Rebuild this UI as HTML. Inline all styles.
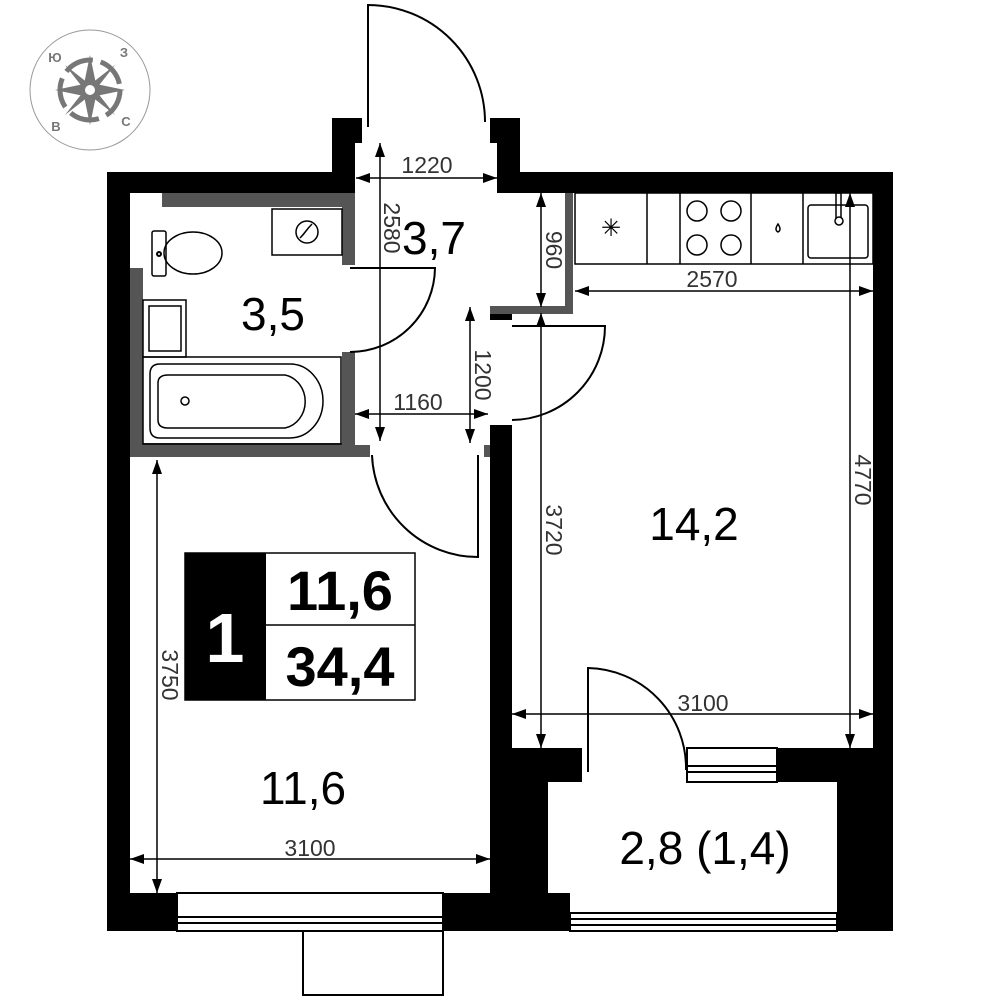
<!DOCTYPE html>
<html><head><meta charset="utf-8"><style>
html,body{margin:0;padding:0;background:#fff;width:1000px;height:1000px;overflow:hidden}
text{font-family:"Liberation Sans",sans-serif}
</style></head><body>
<svg width="1000" height="1000" viewBox="0 0 1000 1000" xmlns="http://www.w3.org/2000/svg">
<defs>
<marker id="a" viewBox="0 0 14 10" refX="14" refY="5" markerWidth="14" markerHeight="10" markerUnits="userSpaceOnUse" orient="auto-start-reverse"><path d="M0,0L14,5L0,10z" fill="#000"/></marker>
</defs>
<g>
<circle cx="90" cy="90" r="60" fill="none" stroke="#999" stroke-width="1"/>
<circle cx="90" cy="90" r="30" fill="none" stroke="#777" stroke-width="5" stroke-dasharray="30 8"/>
<path d="M90,55 L96,84 L125,90 L96,96 L90,125 L84,96 L55,90 L84,84Z" fill="#777"/>
<path d="M65,65 L93,87 L115,115 L87,93Z" fill="#777"/>
<path d="M115,65 L93,93 L65,115 L87,87Z" fill="#777"/>
<circle cx="90" cy="90" r="7" fill="#fff" stroke="#777" stroke-width="4"/>
<text x="55" y="62" font-size="13" font-weight="bold" fill="#777" text-anchor="middle">Ю</text>
<text x="124" y="57" font-size="13" font-weight="bold" fill="#777" text-anchor="middle">З</text>
<text x="56" y="131" font-size="13" font-weight="bold" fill="#777" text-anchor="middle">В</text>
<text x="126" y="126" font-size="13" font-weight="bold" fill="#777" text-anchor="middle">С</text>
</g>
<g fill="#000">
<rect x="107" y="172" width="23" height="759"/>
<rect x="107" y="172" width="248" height="21"/>
<rect x="332" y="118" width="23" height="75"/>
<rect x="355" y="118" width="7" height="25"/>
<rect x="497" y="118" width="23" height="75"/>
<rect x="490" y="118" width="7" height="25"/>
<rect x="497" y="172" width="396" height="21"/>
<rect x="873" y="172" width="20" height="578"/>
<rect x="107" y="893" width="70" height="38"/>
<rect x="443" y="893" width="127" height="38"/>
<rect x="490" y="425" width="22" height="325"/>
<rect x="490" y="748" width="58" height="145"/>
<rect x="548" y="748" width="34" height="34"/>
<rect x="777" y="748" width="60" height="34"/>
<rect x="837" y="748" width="56" height="183"/>
<rect x="490" y="313" width="22" height="7"/>
</g>
<g fill="#555">
<rect x="162" y="193" width="193" height="14"/>
<rect x="342" y="193" width="13" height="72"/>
<rect x="342" y="352" width="13" height="105"/>
<rect x="130" y="443" width="225" height="14"/>
<rect x="130" y="268" width="13" height="189"/>
<rect x="355" y="445" width="15" height="12"/>
<rect x="484" y="445" width="6" height="12"/>
<rect x="490" y="306" width="83" height="8"/>
<rect x="565" y="193" width="8" height="120"/>
</g>
<g fill="none" stroke="#000" stroke-width="2">
<rect x="177" y="893" width="266" height="38" fill="#fff"/>
<line x1="177" y1="917" x2="443" y2="917"/><line x1="177" y1="923" x2="443" y2="923"/>
<rect x="303" y="931" width="140" height="64"/>
<rect x="570" y="913" width="267" height="18" fill="#fff"/>
<line x1="570" y1="919" x2="837" y2="919"/><line x1="570" y1="925" x2="837" y2="925"/>
<rect x="687" y="748" width="90" height="34" fill="#fff"/>
<line x1="687" y1="766" x2="777" y2="766"/><line x1="687" y1="772" x2="777" y2="772"/>
<path d="M368,127 V5 A117,117 0 0 1 485,122"/>
<path d="M350,268 H435 A85,85 0 0 1 350,352"/>
<path d="M512,326 H605 A94,94 0 0 1 512,420"/>
<path d="M372,455 A106,106 0 0 0 478,557 V455"/>
<path d="M588,772 V668 A100,100 0 0 1 686,770"/>
<rect x="272" y="209" width="70" height="46" stroke-width="1.5"/>
<circle cx="307" cy="232" r="11" stroke-width="1.5"/>
<path d="M300,238 C306,232 306,230 312,224" stroke-width="1.5"/>
<rect x="152" y="231" width="14" height="45" rx="2" stroke-width="1.5"/>
<ellipse cx="193" cy="253" rx="29" ry="21" stroke-width="1.5"/>
<circle cx="159" cy="254" r="2"/>
<rect x="143" y="300" width="43" height="57" stroke-width="1.5"/>
<rect x="149" y="306" width="32" height="45" stroke-width="1.5"/>
<rect x="143" y="357" width="198" height="87" stroke-width="1.5"/>
<path d="M160,364 H290 A33,37 0 0 1 290,438 H160 Q150,438 150,428 V374 Q150,364 160,364Z" stroke-width="1.5"/>
<path d="M168,375 H285 A25,27 0 0 1 285,428 H168 Q158,428 158,420 V383 Q158,375 168,375Z" stroke-width="1.5"/>
<circle cx="185" cy="401" r="4" stroke-width="1.5"/>
<rect x="575" y="193" width="298" height="71" stroke-width="1.5"/>
<line x1="647" y1="193" x2="647" y2="264" stroke-width="1.5"/>
<line x1="680" y1="193" x2="680" y2="264" stroke-width="1.5"/>
<line x1="751" y1="193" x2="751" y2="264" stroke-width="1.5"/>
<line x1="803" y1="193" x2="803" y2="264" stroke-width="1.5"/>
<circle cx="697" cy="211" r="10" stroke-width="1.5"/><circle cx="731" cy="211" r="10" stroke-width="1.5"/>
<circle cx="697" cy="245" r="10" stroke-width="1.5"/><circle cx="731" cy="245" r="10" stroke-width="1.5"/>
<rect x="808" y="205" width="60" height="53" rx="3" stroke-width="1.5"/>
<rect x="836" y="193" width="5" height="28" stroke-width="1.5"/>
<circle cx="839" cy="221" r="4" fill="#fff" stroke-width="1.5"/>
<rect x="185" y="553" width="230" height="147" stroke-width="1.5"/>
<line x1="266" y1="625" x2="415" y2="625" stroke-width="1.5"/>
</g>
<text x="611" y="236" font-size="24" text-anchor="middle">✳</text>
<path d="M778,224 q-4,6 0,8 q4,-2 0,-8z" fill="none" stroke="#000" stroke-width="1.5"/>
<rect x="185" y="553" width="81" height="147" fill="#000"/>
<text x="225" y="662" font-size="70" font-weight="bold" fill="#fff" text-anchor="middle">1</text>
<text x="340" y="610" font-size="56" font-weight="bold" text-anchor="middle">11,6</text>
<text x="340" y="686" font-size="56" font-weight="bold" text-anchor="middle">34,4</text>
<g stroke="#000" stroke-width="1.5" marker-start="url(#a)" marker-end="url(#a)">
<line x1="380" y1="143" x2="380" y2="441"/>
<line x1="356" y1="178" x2="497" y2="178"/>
<line x1="355" y1="414" x2="488" y2="414"/>
<line x1="470" y1="307" x2="470" y2="443"/>
<line x1="541" y1="193" x2="541" y2="307"/>
<line x1="541" y1="313" x2="541" y2="748"/>
<line x1="575" y1="291" x2="873" y2="291"/>
<line x1="850" y1="193" x2="850" y2="748"/>
<line x1="512" y1="714" x2="873" y2="714"/>
<line x1="157" y1="460" x2="157" y2="893"/>
<line x1="130" y1="859" x2="490" y2="859"/>
</g>
<g font-size="23" fill="#333" text-anchor="middle">
<text x="427" y="173">1220</text>
<text x="418" y="410">1160</text>
<text x="712" y="287">2570</text>
<text x="703" y="711">3100</text>
<text x="310" y="856">3100</text>
<text transform="translate(384,228) rotate(90)">2580</text>
<text transform="translate(475,375) rotate(90)">1200</text>
<text transform="translate(546,250) rotate(90)">960</text>
<text transform="translate(546,530) rotate(90)">3720</text>
<text transform="translate(855,480) rotate(90)">4770</text>
<text transform="translate(162,675) rotate(90)">3750</text>
</g>
<g font-size="46" text-anchor="middle">
<text x="434" y="254">3,7</text>
<text x="273" y="330">3,5</text>
<text x="694" y="540">14,2</text>
<text x="303" y="804">11,6</text>
<text x="705" y="864">2,8 (1,4)</text>
</g>
</svg>
</body></html>
